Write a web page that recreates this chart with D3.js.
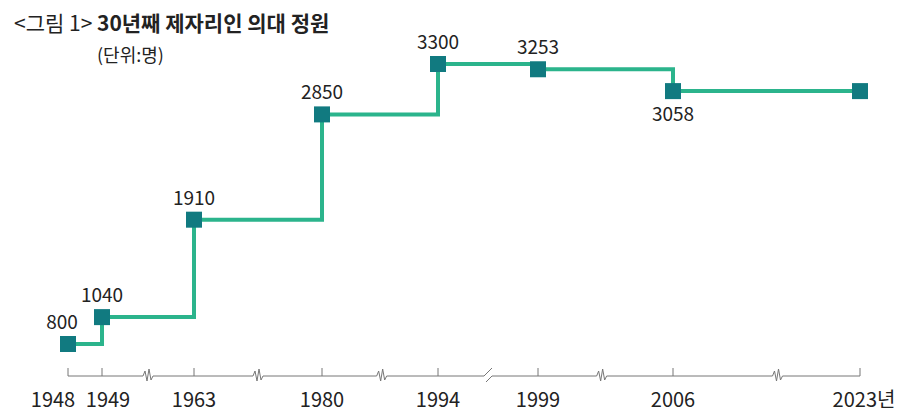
<!DOCTYPE html>
<html><head><meta charset="utf-8">
<script src="https://cdn.jsdelivr.net/npm/d3@7"></script>
<style>body{margin:0;background:#fff}text{font-family:"Noto Sans CJK KR","Noto Sans",sans-serif}</style>
</head><body><svg id="c" width="900" height="418"></svg>
<script>
const years = [1948, 1949, 1963, 1980, 1994, 1999, 2006, 2023];
const values = [800, 1040, 1910, 2850, 3300, 3253, 3058, 3058];
const valueLabels = ["800", "1040", "1910", "2850", "3300", "3253", "3058", ""];
const tickLabels = ["1948", "1949", "1963", "1980", "1994", "1999", "2006", "2023년"];
const breakYears = [1956, 1971.5, 1987.2, 1996.5, 2002.3, 2015.5];

const svg = d3.select("#c");
const x = d3.scaleLinear().domain(years).range([68, 102, 194, 322, 438, 538, 673, 860]);
const y = d3.scaleLinear().domain([800, 3300]).range([344, 64]);
const data = years.map((yr, i) => ({yr, v: values[i], lab: valueLabels[i]}));

svg.append("text").attr("x", 14).attr("y", 31).attr("font-size", 21).attr("fill", "#222")
  .html('<tspan font-weight="400">&lt;그림 1&gt; </tspan><tspan font-weight="700">30년째 제자리인 의대 정원</tspan>');
svg.append("text").attr("x", 97).attr("y", 62).attr("font-size", 18).attr("fill", "#222").text("(단위:명)");

// axis
const ay = 376;
const g = svg.append("g");
let path = `M${x(1948)},${ay}`;
breakYears.forEach((b, i) => {
  const bx = x(b);
  if (i === 3) {
    path += `L${bx-4},${ay}L${bx+4},${ay-8}M${bx-2},${ay+6}L${bx+4},${ay}`;
  } else {
    path += `L${bx-5},${ay}L${bx-3},${ay-5}L${bx-1},${ay+5}L${bx+1},${ay-7}L${bx+3},${ay+4}L${bx+5},${ay}`;
  }
});
path += `L${x(2023)},${ay}`;
g.append("path").attr("d", path).attr("fill", "none").attr("stroke", "#777").attr("stroke-width", 1);
g.selectAll("line.t").data(years).join("line").attr("x1", d => x(d)).attr("x2", d => x(d))
  .attr("y1", ay - 8).attr("y2", ay).attr("stroke", "#777");
const tickShift = [-15, 6, 0, 0, 0, 0, 0, 4];
g.selectAll("text.t").data(years).join("text")
  .attr("x", (d, i) => x(d) + tickShift[i]).attr("y", 407).attr("text-anchor", "middle")
  .attr("font-family", "'Liberation Sans Narrow','DejaVu Sans Condensed',sans-serif")
  .attr("font-size", 20).attr("fill", "#222").text((d, i) => tickLabels[i]);

// line
const line = d3.line().x(d => x(d.yr)).y(d => y(d.v)).curve(d3.curveStepAfter);
svg.append("path").datum(data).attr("d", line).attr("fill", "none")
  .attr("stroke", "#2bb48c").attr("stroke-width", 4);
svg.selectAll("rect.m").data(data).join("rect")
  .attr("x", d => x(d.yr) - 8).attr("y", d => y(d.v) - 8).attr("width", 16).attr("height", 16)
  .attr("fill", "#117a80");
svg.selectAll("text.v").data(data).join("text")
  .attr("x", (d, i) => x(d.yr) + (i === 0 ? -6 : 0))
  .attr("y", d => d.v === 3058 ? y(d.v) + 30 : y(d.v) - 15)
  .attr("text-anchor", "middle").attr("font-size", 19).attr("fill", "#222").text(d => d.lab);
</script></body></html>
